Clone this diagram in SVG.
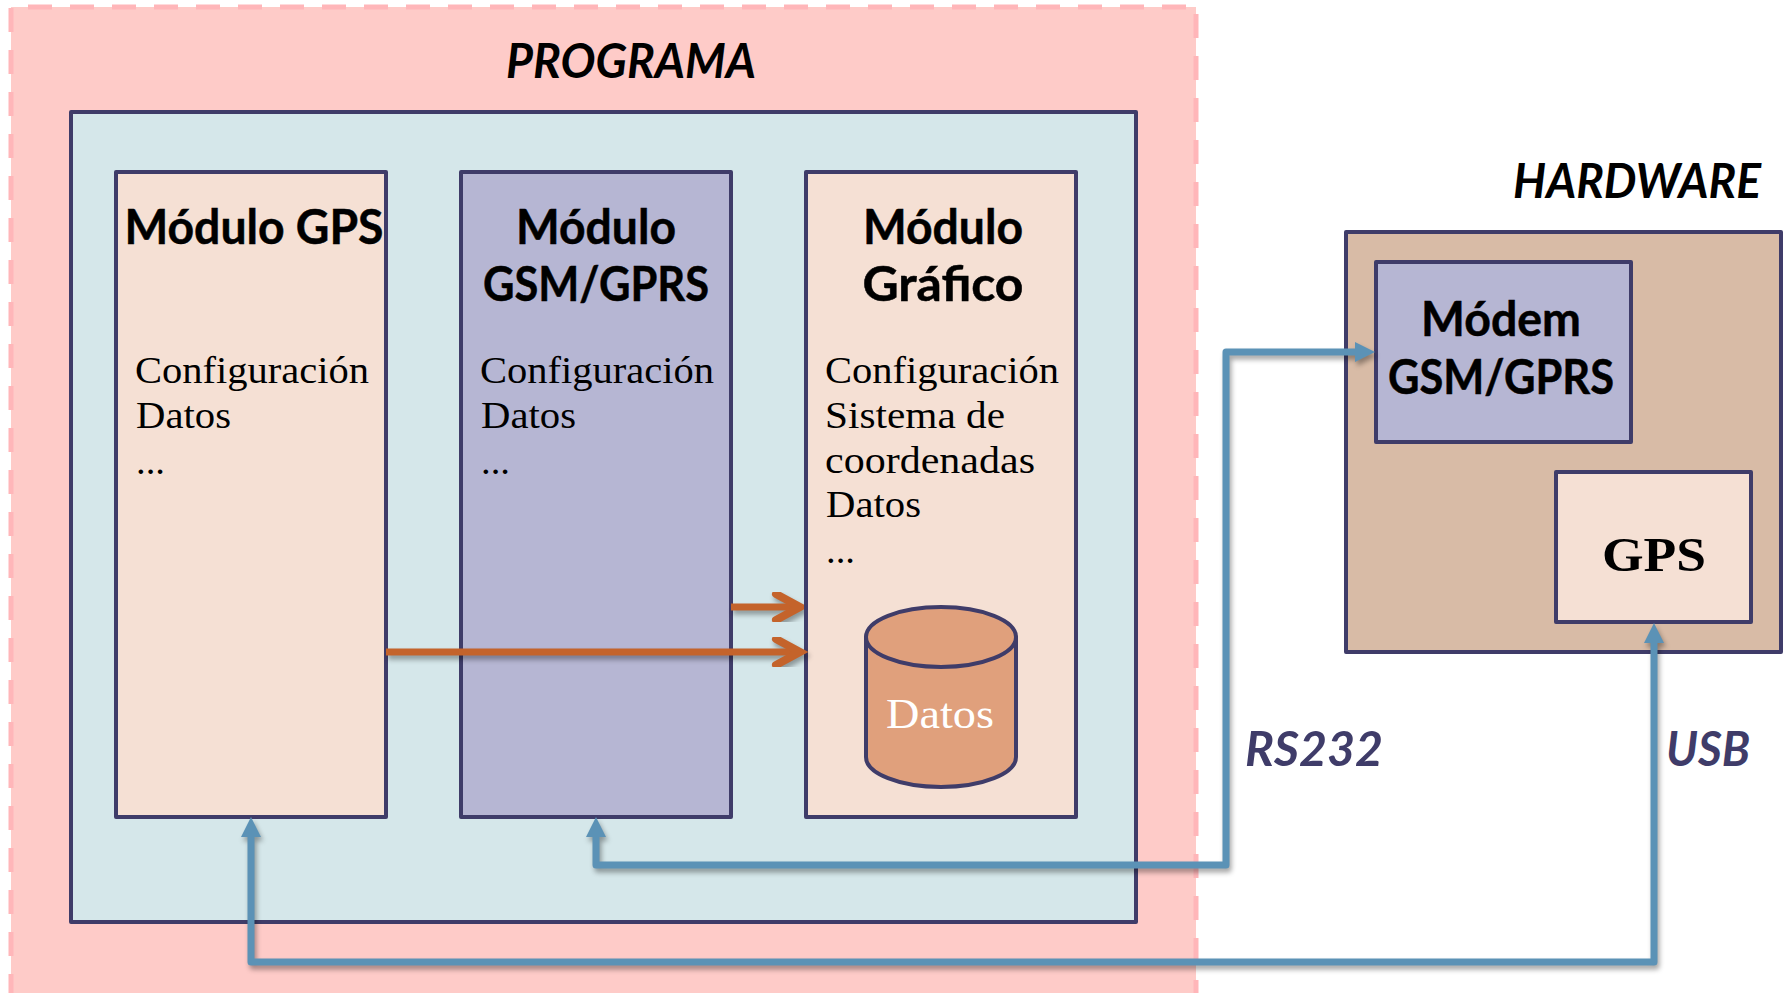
<svg xmlns="http://www.w3.org/2000/svg" width="1792" height="993" viewBox="0 0 1792 993">
<style>
.box{stroke:#3f3c69;stroke-width:4;stroke-linejoin:round}
.peach{fill:#f5e0d4}.lav{fill:#b6b6d3}
.h{font:700 48px Lato,"Noto Sans",sans-serif;fill:#000;text-anchor:middle;stroke:#000;stroke-width:.5}
.b{font:38px "Liberation Serif",serif;fill:#000}
.t{font:italic 700 48px Lato,"Noto Sans",sans-serif;fill:#000}
.l{font:italic 700 48px Lato,"Noto Sans",sans-serif;fill:#3f3c69}
.blue{fill:none;stroke:#5b92b6;stroke-width:7;stroke-linejoin:round}
.org{fill:none;stroke:#c4632b;stroke-width:7}
.orgh{fill:none;stroke:#c4632b;stroke-width:8;stroke-linecap:round;stroke-linejoin:miter}
.dash{fill:none;stroke:#ffb6b9;stroke-width:5;stroke-dasharray:24 18}
</style>
<defs>
<filter id="sh" x="-5%" y="-5%" width="110%" height="110%" color-interpolation-filters="sRGB"><feDropShadow dx="2" dy="4" stdDeviation="2.5" flood-color="#000" flood-opacity="0.35"/></filter>
<marker id="ah" markerUnits="userSpaceOnUse" markerWidth="20" markerHeight="22" refX="6" refY="11" orient="auto-start-reverse"><path d="M0 1L20 11L0 21Z" fill="#5b92b6"/></marker>
</defs>
<g id="programa">
<rect x="11" y="7" width="1185" height="990" fill="#fecbc8"/>
<path class="dash" d="M11 8V997"/><path class="dash" d="M28 7H1198"/><path class="dash" d="M1196 14V997"/>
<text class="t" x="506" y="78" textLength="250" lengthAdjust="spacingAndGlyphs">PROGRAMA</text>
</g>
<g id="contenedor"><rect class="box" x="71" y="112" width="1065" height="810" fill="#d5e7ea"/></g>
<g id="modulo-gps">
<rect class="box peach" x="116" y="172" width="270" height="645"/>
<text class="h" x="254" y="244" textLength="259" lengthAdjust="spacingAndGlyphs">Módulo GPS</text>
<text class="b" x="135" y="383" textLength="234" lengthAdjust="spacingAndGlyphs">Configuración</text>
<text class="b" x="136" y="428" textLength="95" lengthAdjust="spacingAndGlyphs">Datos</text>
<text class="b" x="136" y="474" textLength="29" lengthAdjust="spacingAndGlyphs">...</text>
</g>
<g id="modulo-gsm">
<rect class="box lav" x="461" y="172" width="270" height="645"/>
<text class="h" x="596" y="244" textLength="160" lengthAdjust="spacingAndGlyphs">Módulo</text>
<text class="h" x="596" y="301" textLength="226" lengthAdjust="spacingAndGlyphs">GSM/GPRS</text>
<text class="b" x="480" y="383" textLength="234" lengthAdjust="spacingAndGlyphs">Configuración</text>
<text class="b" x="481" y="428" textLength="95" lengthAdjust="spacingAndGlyphs">Datos</text>
<text class="b" x="481" y="474" textLength="29" lengthAdjust="spacingAndGlyphs">...</text>
</g>
<g id="modulo-grafico">
<rect class="box peach" x="806" y="172" width="270" height="645"/>
<text class="h" x="943" y="244" textLength="160" lengthAdjust="spacingAndGlyphs">Módulo</text>
<text class="h" x="943" y="301" textLength="161" lengthAdjust="spacingAndGlyphs">Gráfico</text>
<text class="b" x="825" y="383" textLength="234" lengthAdjust="spacingAndGlyphs">Configuración</text>
<text class="b" x="825" y="428" textLength="180" lengthAdjust="spacingAndGlyphs">Sistema de</text>
<text class="b" x="825" y="473" textLength="210" lengthAdjust="spacingAndGlyphs">coordenadas</text>
<text class="b" x="826" y="517" textLength="95" lengthAdjust="spacingAndGlyphs">Datos</text>
<text class="b" x="826" y="563" textLength="29" lengthAdjust="spacingAndGlyphs">...</text>
</g>
<g id="datos">
<path class="box" d="M866 637V757A75 30 0 0 0 1016 757V637Z" fill="#e0a07c"/>
<ellipse class="box" cx="941" cy="637" rx="75" ry="30" fill="#e0a07c"/>
<text x="886" y="728" textLength="108" lengthAdjust="spacingAndGlyphs" style="font:42px 'Liberation Serif',serif;fill:#fff">Datos</text>
</g>
<g id="hardware">
<text class="t" x="1513" y="198" textLength="248" lengthAdjust="spacingAndGlyphs">HARDWARE</text>
<rect class="box" x="1346" y="232" width="435" height="420" fill="#d8bba6"/>
</g>
<g id="modem">
<rect class="box lav" x="1376" y="262" width="255" height="180"/>
<text class="h" x="1501" y="336" textLength="160" lengthAdjust="spacingAndGlyphs">Módem</text>
<text class="h" x="1501" y="394" textLength="226" lengthAdjust="spacingAndGlyphs">GSM/GPRS</text>
</g>
<g id="gps">
<rect class="box peach" x="1556" y="472" width="195" height="150"/>
<text x="1602" y="571" textLength="104" lengthAdjust="spacingAndGlyphs" style="font:700 48px 'Liberation Serif',serif;fill:#000">GPS</text>
</g>
<g id="connectors">
<g filter="url(#sh)">
<path class="org" d="M731 607H798"/><path class="orgh" d="M776 594L800 607L776 620"/>
</g>
<g filter="url(#sh)">
<path class="org" d="M386 652H798"/><path class="orgh" d="M776 639L800 652L776 665"/>
</g>
<path class="blue" filter="url(#sh)" marker-start="url(#ah)" marker-end="url(#ah)" d="M596 831V865H1226V352H1361"/>
<path class="blue" filter="url(#sh)" marker-start="url(#ah)" marker-end="url(#ah)" d="M251 831V962H1654V637"/>
</g>
<g id="labels">
<text class="l" x="1245" y="766" textLength="138" lengthAdjust="spacingAndGlyphs">RS232</text>
<text class="l" x="1666" y="766" textLength="84" lengthAdjust="spacingAndGlyphs">USB</text>
</g>
</svg>
